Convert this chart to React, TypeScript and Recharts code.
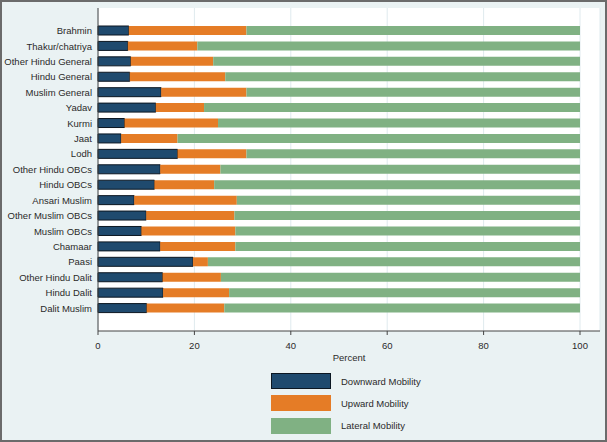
import { BarChart, Bar, XAxis, YAxis, CartesianGrid, Label } from 'recharts'

const CATEGORIES = [
  'Brahmin', 'Thakur/chatriya', 'Other Hindu General', 'Hindu General', 'Muslim General',
  'Yadav', 'Kurmi', 'Jaat', 'Lodh', 'Other Hindu OBCs', 'Hindu OBCs', 'Ansari Muslim',
  'Other Muslim OBCs', 'Muslim OBCs', 'Chamaar', 'Paasi', 'Other Hindu Dalit', 'Hindu Dalit',
  'Dalit Muslim',
]
const DOWNWARD = [6.4, 6.2, 6.8, 6.6, 13.1, 12.0, 5.5, 4.8, 16.5, 12.9, 11.7, 7.5, 10.0, 9.0, 12.9, 19.7, 13.4, 13.5, 10.1]
const UPWARD = [24.4, 14.4, 17.1, 19.8, 17.7, 10.0, 19.4, 11.7, 14.3, 12.5, 12.4, 21.3, 18.3, 19.5, 15.6, 3.1, 12.1, 13.7, 16.1]
const X_TICKS = [0, 20, 40, 60, 80, 100]

const SERIES = [
  { key: 'down', name: 'Downward Mobility', color: '#1f4a6e', stroke: '#0c1722' },
  { key: 'up', name: 'Upward Mobility', color: '#e57c26', stroke: 'none' },
  { key: 'lateral', name: 'Lateral Mobility', color: '#80b183', stroke: 'none' },
]

const data = CATEGORIES.map((name, i) => ({
  name,
  down: DOWNWARD[i],
  up: UPWARD[i],
  lateral: +(100 - DOWNWARD[i] - UPWARD[i]).toFixed(1),
}))

const FONT = '"Liberation Sans", Arial, sans-serif'
const TEXT = '#2a2a2a'

// plain svg text so long labels don't get wrapped
const CategoryTick = ({ x, y, payload }: any) => (
  <text x={x + 2} y={y} dy={3.4} textAnchor="end" fontSize={9.5} fill={TEXT} fontFamily={FONT}>
    {payload.value}
  </text>
)

const NumberTick = ({ x, y, payload }: any) => (
  <text x={x} y={y} dy={12} textAnchor="middle" fontSize={9.5} fill={TEXT} fontFamily={FONT}>
    {payload.value}
  </text>
)

export default function App() {
  return (
    <div
      style={{
        position: 'absolute',
        left: 0,
        top: 0,
        width: 607,
        height: 442,
        boxSizing: 'border-box',
        border: '2px solid #6b6b6b',
        background: '#eaf2f3',
        fontFamily: FONT,
      }}
    >
      <div style={{ position: 'absolute', left: -2, top: -2 }}>
        <BarChart
          width={607}
          height={442}
          data={data}
          layout="vertical"
          margin={{ top: 8, right: 7, bottom: 81, left: 0 }}
          barSize={9}
        >
          <CartesianGrid horizontal={false} stroke="#dfeaee" fill="#ffffff" />
          <XAxis
            type="number"
            domain={[0, 100]}
            ticks={X_TICKS}
            padding={{ left: 0, right: 20 }}
            height={30}
            stroke="#444"
            tickSize={4}
            tick={<NumberTick />}
          >
            <Label value="Percent" position="insideBottom" offset={0} style={{ fontSize: 9.5, fill: TEXT, fontFamily: FONT }} />
          </XAxis>
          <YAxis
            type="category"
            dataKey="name"
            width={98}
            stroke="#444"
            tickLine={false}
            padding={{ top: 15, bottom: 15 }}
            interval={0}
            tick={<CategoryTick />}
          />
          {SERIES.map((s) => (
            <Bar
              key={s.key}
              dataKey={s.key}
              name={s.name}
              stackId="a"
              fill={s.color}
              stroke={s.stroke}
              strokeWidth={1}
              isAnimationActive={false}
            />
          ))}
        </BarChart>
      </div>
      {SERIES.map((s, i) => (
        <div
          key={s.key}
          style={{
            position: 'absolute',
            left: 269,
            top: 371 + i * 22.3,
            display: 'flex',
            alignItems: 'center',
            fontSize: 9.5,
            color: TEXT,
          }}
        >
          <div
            style={{
              width: 60,
              height: 16,
              boxSizing: 'border-box',
              background: s.color,
              border: s.stroke === 'none' ? 'none' : `1.5px solid ${s.stroke}`,
            }}
          />
          <span style={{ marginLeft: 10 }}>{s.name}</span>
        </div>
      ))}
    </div>
  )
}
